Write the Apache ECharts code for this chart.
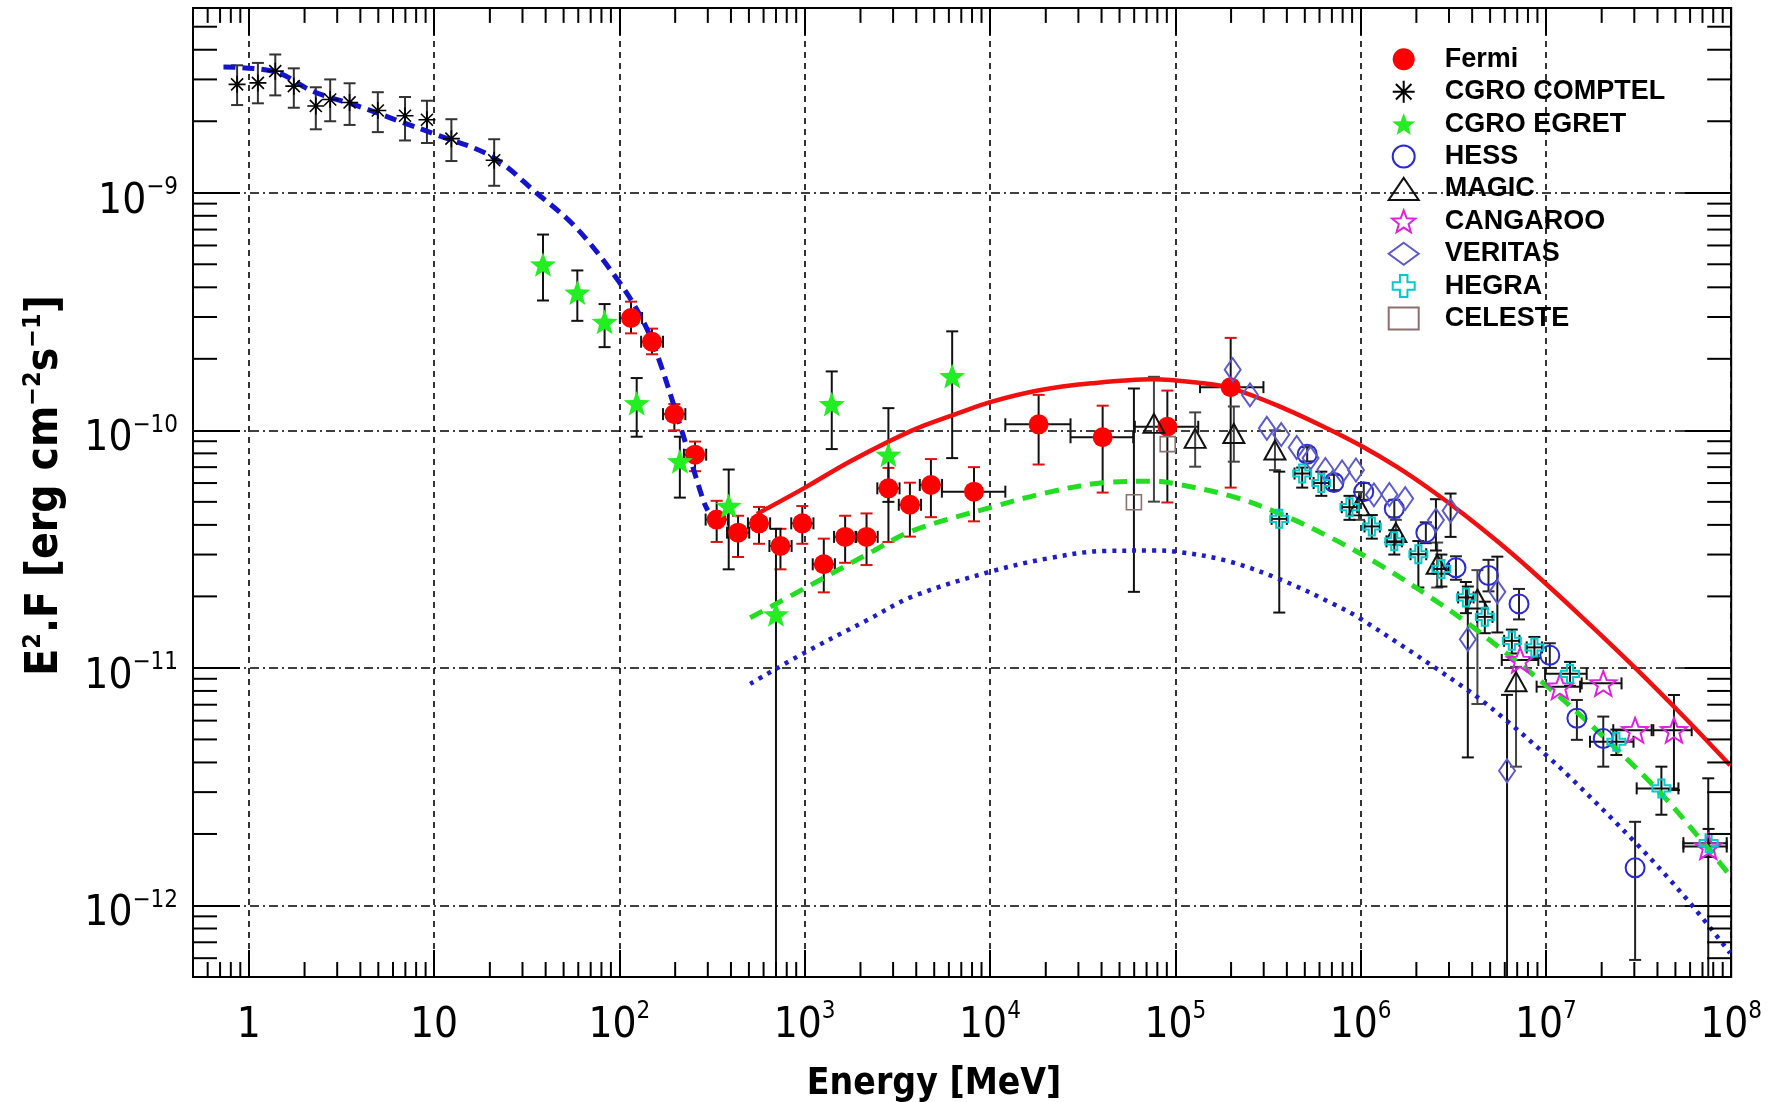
<!DOCTYPE html>
<html>
<head>
<meta charset="utf-8">
<script src="https://cdn.jsdelivr.net/npm/echarts@6/dist/echarts.min.js"></script>
<style>html,body{margin:0;padding:0;background:#fff}#c{width:1777px;height:1102px}</style>
</head>
<body>
<div id="c"></div>
<script>
// ---------------- DATA (energy in MeV, E^2.F in erg cm^-2 s^-1) ----------------
// [E, F, Flow, Fhigh, Elow, Ehigh]
const fermi = [
  [115.5, 2.97e-10, 2.56e-10, 3.48e-10, 100.6, 132.6],
  [150, 2.36e-10, 2.09e-10, 2.68e-10, 131, 172],
  [198, 1.17e-10, 1.0e-10, 1.29e-10, 172, 227],
  [256, 7.9e-11, 6.73e-11, 8.97e-11, 223, 294],
  [335, 4.21e-11, 3.39e-11, 5.05e-11, 292, 385],
  [437, 3.71e-11, 2.93e-11, 4.37e-11, 381, 502],
  [567, 4.06e-11, 3.33e-11, 4.76e-11, 494, 651],
  [740, 3.26e-11, 2.6e-11, 3.85e-11, 645, 850],
  [971, 4.06e-11, 3.33e-11, 4.8e-11, 846, 1115],
  [1268, 2.73e-11, 2.08e-11, 3.5e-11, 1105, 1456],
  [1653, 3.56e-11, 2.77e-11, 4.37e-11, 1440, 1898],
  [2157, 3.56e-11, 2.71e-11, 4.47e-11, 1879, 2477],
  [2831, 5.70e-11, 3.39e-11, 6.95e-11, 2466, 3250],
  [3697, 4.86e-11, 3.57e-11, 6.02e-11, 3220, 4245],
  [4800, 5.89e-11, 4.31e-11, 7.57e-11, 4181, 5511],
  [8200, 5.52e-11, 4.14e-11, 7.0e-11, 5500, 12100],
  [18300, 1.06e-10, 7.18e-11, 1.41e-10, 12100, 27200],
  [40550, 9.35e-11, 5.47e-11, 1.27e-10, 27200, 59300],
  [90600, 1.035e-10, 4.97e-11, 1.47e-10, 60500, 133000],
  [199000, 1.52e-10, 5.74e-11, 2.45e-10, 136000, 299000]
];
// [E, F, Flow, Fhigh]
const comptel = [
  [0.865, 2.86e-9, 2.34e-9, 3.44e-9],
  [1.12, 2.90e-9, 2.38e-9, 3.52e-9],
  [1.39, 3.25e-9, 2.57e-9, 3.82e-9],
  [1.75, 2.81e-9, 2.28e-9, 3.34e-9],
  [2.30, 2.32e-9, 1.85e-9, 2.78e-9],
  [2.75, 2.47e-9, 2.00e-9, 3.00e-9],
  [3.50, 2.40e-9, 1.93e-9, 2.89e-9],
  [4.97, 2.22e-9, 1.80e-9, 2.65e-9],
  [6.97, 2.11e-9, 1.66e-9, 2.53e-9],
  [9.15, 2.03e-9, 1.62e-9, 2.44e-9],
  [12.4, 1.69e-9, 1.36e-9, 2.04e-9],
  [21.1, 1.37e-9, 1.07e-9, 1.68e-9]
];
const egret = [
  [38.7, 4.99e-10, 3.52e-10, 6.67e-10],
  [59.3, 3.80e-10, 2.89e-10, 4.71e-10],
  [83.2, 2.86e-10, 2.24e-10, 3.40e-10],
  [124, 1.30e-10, 9.4e-11, 1.66e-10],
  [212, 7.41e-11, 5.21e-11, 9.4e-11],
  [389, 4.81e-11, 2.60e-11, 6.84e-11],
  [700, 1.68e-11, 5e-13, 3.85e-11],
  [1400, 1.29e-10, 8.34e-11, 1.77e-10],
  [2830, 7.89e-11, 5.0e-11, 1.24e-10],
  [6250, 1.69e-10, 7.64e-11, 2.61e-10]
];
const hess = [
  [5.15e5, 7.93e-11, 7.4e-11, 8.5e-11],
  [7.18e5, 6.03e-11, 5.6e-11, 6.5e-11],
  [1.04e6, 5.52e-11, 5.1e-11, 6.0e-11],
  [1.52e6, 4.68e-11, 4.3e-11, 5.1e-11],
  [2.25e6, 3.71e-11, 3.35e-11, 4.1e-11],
  [3.27e6, 2.64e-11, 2.35e-11, 2.95e-11],
  [4.90e6, 2.45e-11, 2.1e-11, 2.85e-11],
  [7.16e6, 1.86e-11, 1.6e-11, 2.15e-11],
  [1.05e7, 1.13e-11, 1.0e-11, 1.27e-11],
  [1.47e7, 6.14e-12, 4.98e-12, 7.33e-12],
  [2.04e7, 5.04e-12, 3.84e-12, 6.24e-12],
  [3.03e7, 1.44e-12, 5.9e-13, 2.25e-12]
];
const magic = [
  [7.67e4, 1.07e-10, 5.01e-11, 1.68e-10],
  [1.28e5, 9.25e-11, 7.03e-11, 1.19e-10],
  [2.07e5, 9.70e-11, 7.38e-11, 1.26e-10],
  [3.45e5, 8.26e-11, 6.8e-11, 1.0e-10],
  [9.8e5, 4.81e-11, 4.2e-11, 5.5e-11],
  [1.55e6, 3.71e-11, 3.3e-11, 4.2e-11],
  [2.59e6, 2.73e-11, 2.18e-11, 3.37e-11],
  [4.27e6, 1.95e-11, 7.05e-12, 2.58e-11],
  [6.9e6, 8.75e-12, 3.84e-12, 1.01e-11]
];
// [E, F, Flow, Fhigh, Elow, Ehigh]
const cangaroo = [
  [7.26e6, 1.08e-11, null, null, 5.78e6, 9.1e6],
  [1.19e7, 8.34e-12, null, null, 8.91e6, 1.53e7],
  [2.04e7, 8.61e-12, null, null, 1.56e7, 2.56e7],
  [3.03e7, 5.47e-12, null, null, 2.31e7, 3.72e7],
  [4.91e7, 5.47e-12, 3.06e-12, 7.69e-12, 3.8e7, 6.12e7],
  [7.52e7, 1.77e-12, 5e-13, 3.43e-12, 5.52e7, 9.46e7]
];
const veritas = [
  [2.04e5, 1.80e-10, null, null],
  [2.53e5, 1.41e-10, null, null],
  [3.12e5, 1.02e-10, null, null],
  [3.73e5, 9.6e-11, null, null],
  [4.52e5, 8.47e-11, null, null],
  [5.37e5, 7.64e-11, null, null],
  [6.46e5, 6.84e-11, null, null],
  [7.94e5, 6.68e-11, null, null],
  [9.44e5, 6.81e-11, null, null],
  [1.18e6, 5.35e-11, null, null],
  [1.43e6, 5.37e-11, null, null],
  [1.74e6, 5.16e-11, null, null],
  [2.55e6, 4.19e-11, 3.12e-11, 5.13e-11],
  [3.06e6, 4.59e-11, 3.56e-11, 5.42e-11],
  [3.79e6, 1.32e-11, 4.2e-12, 2.2e-11],
  [5.47e6, 2.09e-11, 1.41e-11, 2.94e-11],
  [6.17e6, 3.69e-12, 5e-13, 7.7e-12]
];
const hegra = [
  [3.64e5, 4.24e-11, 1.71e-11, 6.70e-11, 3.31e5, 4.0e5],
  [4.84e5, 6.58e-11, 5.74e-11, 6.97e-11, 4.4e5, 5.33e5],
  [6.14e5, 6.0e-11, 5.3e-11, 6.7e-11, 5.58e5, 6.76e5],
  [8.71e5, 4.75e-11, 4.2e-11, 5.3e-11, 7.92e5, 9.58e5],
  [1.15e6, 3.94e-11, 3.5e-11, 4.4e-11, 1.05e6, 1.27e6],
  [1.52e6, 3.41e-11, 3.0e-11, 3.8e-11, 1.38e6, 1.67e6],
  [2.05e6, 3.01e-11, 2.18e-11, 3.42e-11, 1.86e6, 2.26e6],
  [2.73e6, 2.61e-11, 2.2e-11, 3.0e-11, 2.48e6, 3.0e6],
  [3.70e6, 1.98e-11, 1.7e-11, 2.3e-11, 3.36e6, 4.07e6],
  [4.68e6, 1.64e-11, 1.4e-11, 1.9e-11, 4.25e6, 5.15e6],
  [6.55e6, 1.30e-11, 1.15e-11, 1.45e-11, 5.95e6, 7.2e6],
  [8.67e6, 1.22e-11, 1.1e-11, 1.35e-11, 7.88e6, 9.54e6],
  [1.35e7, 9.44e-12, 8.4e-12, 1.06e-11, 9.9e6, 1.66e7],
  [2.40e7, 4.89e-12, 4.3e-12, 5.5e-12, 1.73e7, 2.97e7],
  [4.20e7, 3.11e-12, 2.41e-12, 3.84e-12, 3.09e7, 5.19e7],
  [7.55e7, 1.83e-12, 1.6e-12, 2.1e-12, 5.52e7, 9.46e7]
];
const celeste = [
  [5.98e4, 4.98e-11, 2.09e-11, 1.50e-10],
  [9.1e4, 8.75e-11, null, null]
];
// model curves, as [log10 E, log10 F]
const modelTotalLog = [
  [2.742,-10.352],[3.002,-10.241],[3.247,-10.13],[3.584,-9.999],[3.825,-9.929],[4.001,-9.881],
  [4.259,-9.832],[4.548,-9.802],[4.881,-9.785],[5.125,-9.800],[5.299,-9.822],[5.565,-9.900],
  [5.82,-9.992],[6.0,-10.064],[6.198,-10.155],[6.378,-10.25],[6.558,-10.354],[6.738,-10.467],
  [6.918,-10.588],[7.2,-10.79],[7.49,-11.006],[7.75,-11.21],[7.994,-11.41]
];
const modelGreenLog = [
  [2.706,-10.789],[3.002,-10.664],[3.344,-10.519],[3.584,-10.422],[4.001,-10.325],[4.307,-10.262],
  [4.608,-10.221],[4.885,-10.214],[5.0,-10.225],[5.298,-10.276],[5.565,-10.351],[5.86,-10.46],
  [6.126,-10.577],[6.378,-10.703],[6.6,-10.825],[7.022,-11.087],[7.31,-11.289],[7.625,-11.532],
  [7.886,-11.77],[7.994,-11.875]
];
const modelBlueDotLog = [
  [2.706,-11.067],[3.002,-10.935],[3.344,-10.796],[3.584,-10.699],[4.001,-10.595],[4.307,-10.54],
  [4.608,-10.508],[4.885,-10.506],[5.0,-10.51],[5.277,-10.549],[5.565,-10.627],[5.853,-10.731],
  [6.0,-10.793],[6.59,-11.1],[6.806,-11.234],[7.004,-11.369],[7.13,-11.46],[7.49,-11.741],
  [7.76,-11.973],[7.994,-12.2]
];
// [E, F]
const comptelModel = [
  [0.73,3.38e-9],[1.39,3.23e-9],[2.22,2.67e-9],[3.87,2.32e-9],[6.74,1.98e-9],[10,1.77e-9],
  [20.5,1.42e-9],[35.6,1.0e-9],[58.7,7.1e-10],[100,4.2e-10],[135,2.86e-10],[163,2.0e-10],
  [215,1.02e-10],[284,5.05e-11],[300,4.6e-11]
];
// axis range and tick structure
const X_MIN = 0.5, X_MAX = 1e8, Y_MIN = 5e-13, Y_MAX = 6e-9;
const minorSteps = [2,3,4,5,6,7,8,9];
const xDecades = [-1,0,1,2,3,4,5,6,7];
const yDecades = [-13,-12,-11,-10,-9];
const legendNames = ['Fermi','CGRO COMPTEL','CGRO EGRET','HESS','MAGIC','CANGAROO','VERITAS','HEGRA','CELESTE'];

// ---------------- helpers ----------------
const fromLog = arr => arr.map(p => [Math.pow(10, p[0]), Math.pow(10, p[1])]);
const xMinor = [], yMinor = [];
xDecades.forEach(d => minorSteps.forEach(m => { const v = m * Math.pow(10, d); if (v > X_MIN * 1.0001 && v < X_MAX * 0.9999) xMinor.push([v, 1e-10]); }));
yDecades.forEach(d => minorSteps.forEach(m => { const v = m * Math.pow(10, d); if (v > Y_MIN * 1.0001 && v < Y_MAX * 0.9999) yMinor.push([1, v]); }));

function starPath(R, r) {
  let s = '';
  for (let i = 0; i < 10; i++) {
    const a = (-90 + i * 36) * Math.PI / 180, rad = i % 2 ? r : R;
    s += (i ? 'L' : 'M') + (rad * Math.cos(a)).toFixed(3) + ',' + (rad * Math.sin(a)).toFixed(3);
  }
  return 'path://' + s + 'Z';
}
const STAR = starPath(10, 4.2);
const ASTER = 'path://M0,-10L0,10M-10,0L10,0M-7.07,-7.07L7.07,7.07M-7.07,7.07L7.07,-7.07';
const PLUS = 'path://M-3.4,-10L3.4,-10L3.4,-3.4L10,-3.4L10,3.4L3.4,3.4L3.4,10L-3.4,10L-3.4,3.4L-10,3.4L-10,-3.4L-3.4,-3.4Z';

const ok = v => v !== null && v !== undefined && isFinite(v) && v > 0;
function errRender(color, cap, capColor) {
  return function (params, api) {
    const E = api.value(0), lo = api.value(2), hi = api.value(3), elo = api.value(4), ehi = api.value(5), F = api.value(1);
    const st = { stroke: color, lineWidth: 2 };
    const cst = { stroke: capColor || color, lineWidth: 2 };
    const ch = [];
    if (ok(lo) && ok(hi)) {
      const a = api.coord([E, lo]), b = api.coord([E, hi]);
      ch.push({ type: 'line', shape: { x1: a[0], y1: a[1], x2: b[0], y2: b[1] }, style: st });
      ch.push({ type: 'line', shape: { x1: a[0] - cap, y1: a[1], x2: a[0] + cap, y2: a[1] }, style: cst });
      ch.push({ type: 'line', shape: { x1: b[0] - cap, y1: b[1], x2: b[0] + cap, y2: b[1] }, style: cst });
    }
    if (ok(elo) && ok(ehi)) {
      const a = api.coord([elo, F]), b = api.coord([ehi, F]);
      ch.push({ type: 'line', shape: { x1: a[0], y1: a[1], x2: b[0], y2: b[1] }, style: st });
      ch.push({ type: 'line', shape: { x1: a[0], y1: a[1] - cap, x2: a[0], y2: a[1] + cap }, style: st });
      ch.push({ type: 'line', shape: { x1: b[0], y1: b[1] - cap, x2: b[0], y2: b[1] + cap }, style: st });
    }
    return { type: 'group', children: ch };
  };
}
function errSeries(name, data, color, capColor) {
  return { type: 'custom', name: name + ' err', data: data, renderItem: errRender(color, 6, capColor), encode: { x: 0, y: 1 }, z: 3, silent: true, clip: true };
}
function tickRender(axis, len) {
  return function (params, api) {
    const cs = params.coordSys;
    const p = api.coord([api.value(0), api.value(1)]);
    const st = { stroke: '#000', lineWidth: 2 };
    if (axis === 'x') {
      const x = p[0], yb = cs.y + cs.height, yt = cs.y;
      return { type: 'group', children: [
        { type: 'line', shape: { x1: x, y1: yb, x2: x, y2: yb - len }, style: st },
        { type: 'line', shape: { x1: x, y1: yt, x2: x, y2: yt + len }, style: st }
      ] };
    }
    const y = p[1], xl = cs.x, xr = cs.x + cs.width;
    return { type: 'group', children: [
      { type: 'line', shape: { x1: xl, y1: y, x2: xl + len, y2: y }, style: st },
      { type: 'line', shape: { x1: xr, y1: y, x2: xr - len, y2: y }, style: st }
    ] };
  };
}
function markerSeries(name, data, symbol, size, fill, stroke, bw) {
  return {
    type: 'scatter', name: name, data: data.map(d => [d[0], d[1]]), symbol: symbol, symbolSize: size,
    symbolKeepAspect: true, z: 5,
    itemStyle: { color: fill, borderColor: stroke, borderWidth: bw, opacity: 1 }
  };
}
function lineSeries(data, color, width, type) {
  return { type: 'line', data: data, showSymbol: false, smooth: 0.35, z: 4, silent: true,
    lineStyle: { color: color, width: width, type: type, cap: 'butt' } };
}

const NARROW = "'Liberation Sans Narrow','DejaVu Sans Condensed',sans-serif";
const SANS = "'Liberation Sans',Arial,sans-serif";
const isPow = v => { const l = Math.log10(v); return Math.abs(l - Math.round(l)) < 1e-6; };
const labelRich = {
  b: { fontFamily: NARROW, fontSize: 42, lineHeight: 52, color: '#000' },
  s: { fontFamily: NARROW, fontSize: 24, lineHeight: 24, verticalAlign: 'top', color: '#000' }
};
const MINUS = '\u2212';

const chart = echarts.init(document.getElementById('c'), null, { renderer: 'canvas' });
chart.setOption({
  backgroundColor: '#fff',
  animation: false,
  grid: { left: 193, right: 45.8, top: 7.9, bottom: 125, show: true, borderColor: '#000', borderWidth: 2, backgroundColor: 'transparent', outerBoundsMode: 'none', containLabel: false },
  legend: {
    data: legendNames, orient: 'vertical', left: 1387.7, top: 45.8, padding: 0,
    itemWidth: 30, itemHeight: 22, itemGap: 5.4, selectedMode: false,
    textStyle: { fontFamily: SANS, fontWeight: 'bold', fontSize: 27, lineHeight: 27, color: '#000', padding: [0, 0, 0, 21] }
  },
  xAxis: [{
    type: 'log', logBase: 10, min: X_MIN, max: X_MAX, splitNumber: 10,
    axisLine: { show: false },
    axisTick: { show: true, inside: true, length: 27, lineStyle: { color: '#000', width: 2 } },
    splitLine: { show: true, lineStyle: { color: '#000', width: 1.6, type: [6, 5] } },
    axisLabel: {
      margin: 23, rich: labelRich,
      formatter: v => { if (!isPow(v)) return ''; const k = Math.round(Math.log10(v)); if (k === 0) return '{b|1}'; if (k === 1) return '{b|10}'; return '{b|10}{s|' + k + '}'; }
    },
    name: 'Energy [MeV]', nameLocation: 'middle', nameGap: 89,
    nameTextStyle: { fontFamily: NARROW, fontWeight: 'bold', fontSize: 37, color: '#000', padding: [0, 56, 0, 0] }
  }, {
    type: 'log', logBase: 10, min: X_MIN, max: X_MAX, splitNumber: 10, position: 'top',
    axisLine: { show: false }, axisLabel: { show: false }, splitLine: { show: false },
    axisTick: { show: true, inside: true, length: 27, lineStyle: { color: '#000', width: 2 } }
  }],
  yAxis: [{
    type: 'log', logBase: 10, min: Y_MIN, max: Y_MAX, splitNumber: 5,
    axisLine: { show: false },
    axisTick: { show: true, inside: true, length: 47, lineStyle: { color: '#000', width: 2 } },
    splitLine: { show: true, lineStyle: { color: '#000', width: 1.6, type: [9, 4, 2, 4] } },
    axisLabel: {
      margin: 15, rich: labelRich, padding: [18, 0, 0, 0],
      formatter: v => { if (!isPow(v)) return ''; const k = Math.round(Math.log10(v)); return '{b|10}{s|' + MINUS + (-k) + '}'; }
    },
    name: 'E{sup|2}.F [erg cm{sup|' + MINUS + '2}s{sup|' + MINUS + '1}]', nameLocation: 'middle', nameGap: 122, nameRotate: 90,
    nameTextStyle: {
      fontFamily: NARROW, fontWeight: 'bold', fontSize: 44, lineHeight: 50, color: '#000', padding: [0, 0, 0, 14],
      rich: { sup: { fontFamily: NARROW, fontWeight: 'bold', fontSize: 25, lineHeight: 25, verticalAlign: 'top', color: '#000' } }
    }
  }, {
    type: 'log', logBase: 10, min: Y_MIN, max: Y_MAX, splitNumber: 5, position: 'right',
    axisLine: { show: false }, axisLabel: { show: false }, splitLine: { show: false },
    axisTick: { show: true, inside: true, length: 47, lineStyle: { color: '#000', width: 2 } }
  }],
  series: [
    { type: 'custom', name: 'xminor', data: xMinor, renderItem: tickRender('x', 15), encode: { x: 0, y: 1 }, z: 6, silent: true },
    { type: 'custom', name: 'yminor', data: yMinor, renderItem: tickRender('y', 24), encode: { x: 0, y: 1 }, z: 6, silent: true },
    lineSeries(comptelModel, '#1414cc', 5, [12, 7]),
    lineSeries(fromLog(modelTotalLog), '#f01010', 4.5, 'solid'),
    lineSeries(fromLog(modelGreenLog), '#22dd22', 5, [14, 9]),
    lineSeries(fromLog(modelBlueDotLog), '#1e1ec8', 4.5, [4, 6]),
    errSeries('Fermi', fermi, '#111', '#e01010'),
    errSeries('CGRO COMPTEL', comptel, '#333'),
    errSeries('CGRO EGRET', egret, '#111'),
    errSeries('HESS', hess, '#222'),
    errSeries('MAGIC', magic, '#444'),
    errSeries('CANGAROO', cangaroo, '#111'),
    errSeries('VERITAS', veritas, '#111'),
    errSeries('HEGRA', hegra, '#111'),
    errSeries('CELESTE', celeste, '#111'),
    markerSeries('Fermi', fermi, 'circle', 20, '#ff0000', '#ff0000', 0),
    markerSeries('CGRO COMPTEL', comptel, ASTER, 17, '#000', '#000', 1.6),
    markerSeries('CGRO EGRET', egret, STAR, 26, '#22ee22', '#22ee22', 0),
    markerSeries('HESS', hess, 'circle', 19, 'rgba(0,0,0,0)', '#2a2ad4', 2),
    markerSeries('MAGIC', magic, 'triangle', [21, 19], 'rgba(0,0,0,0)', '#111', 2),
    markerSeries('CANGAROO', cangaroo, STAR, 26, 'rgba(0,0,0,0)', '#e020e0', 2),
    markerSeries('VERITAS', veritas, 'diamond', [16, 23], 'rgba(0,0,0,0)', '#5a5acc', 2),
    markerSeries('HEGRA', hegra, PLUS, 18, 'rgba(0,0,0,0)', '#00cccc', 2),
    markerSeries('CELESTE', celeste, 'rect', 15, 'rgba(0,0,0,0)', '#8c7070', 1.6)
  ]
});
</script>
</body>
</html>
